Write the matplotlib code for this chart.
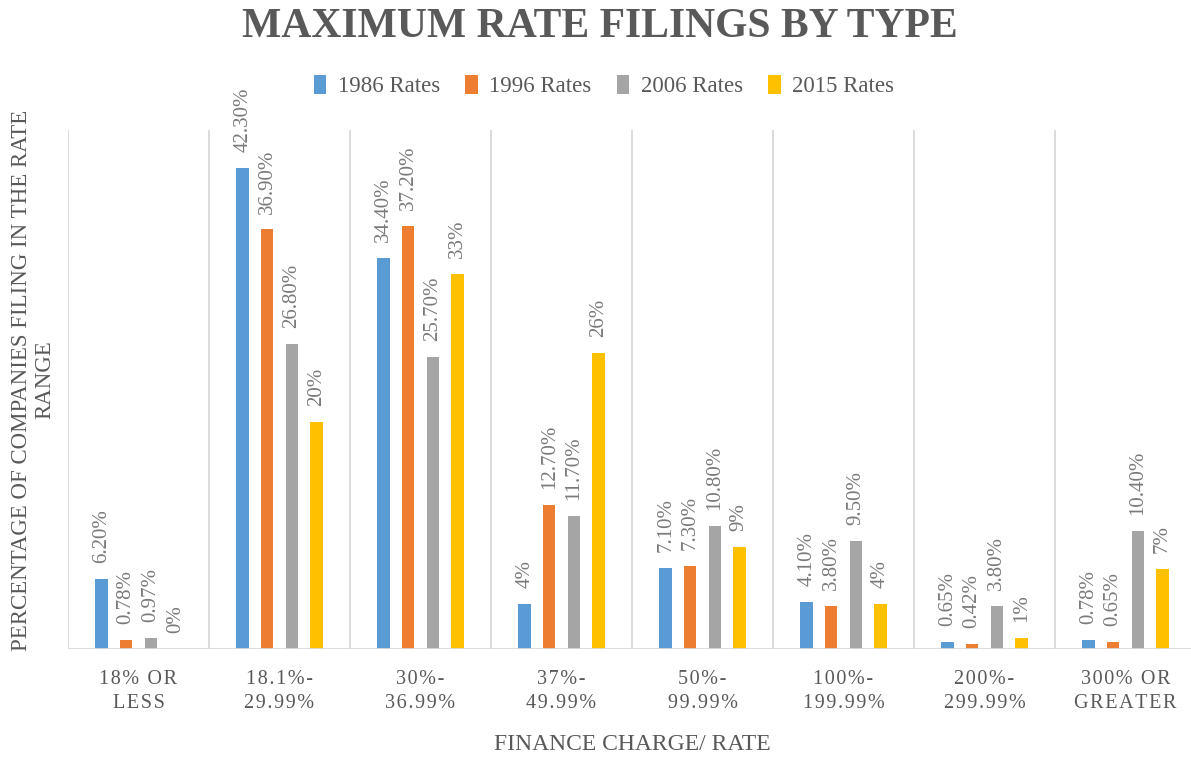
import matplotlib
matplotlib.use("Agg")
import matplotlib.pyplot as plt
import numpy as np

plt.rcParams["font.family"] = ["Liberation Serif", "DejaVu Serif"]

categories = [
    ("18% OR", "LESS"),
    ("18.1%-", "29.99%"),
    ("30%-", "36.99%"),
    ("37%-", "49.99%"),
    ("50%-", "99.99%"),
    ("100%-", "199.99%"),
    ("200%-", "299.99%"),
    ("300% OR", "GREATER"),
]
series_names = ["1986 Rates", "1996 Rates", "2006 Rates", "2015 Rates"]
rates_1986 = [6.20, 42.30, 34.40, 4.0, 7.10, 4.10, 0.65, 0.78]
rates_1996 = [0.78, 36.90, 37.20, 12.70, 7.30, 3.80, 0.42, 0.65]
rates_2006 = [0.97, 26.80, 25.70, 11.70, 10.80, 9.50, 3.80, 10.40]
rates_2015 = [0.0, 20.0, 33.0, 26.0, 9.0, 4.0, 1.0, 7.0]
colors = ["#5B9BD5", "#ED7D31", "#A5A5A5", "#FFC000"]

TEXT = "#595959"
GRID = "#D9D9D9"


def spaced(s):
    # Excel-style letter spacing on the category labels
    return "\u200a".join(s)


def fmt(v):
    return f"{v:.0f}%" if float(v).is_integer() else f"{v:.2f}%"


fig = plt.figure(figsize=(11.91, 7.57), dpi=100)
ax = fig.add_axes([68 / 1191, 1 - 649 / 757, 1128 / 1191, 519 / 757])

x = np.arange(len(categories))
step = 0.174
width = 0.088
all_series = [rates_1986, rates_1996, rates_2006, rates_2015]
handles = []
for i, (vals, col, name) in enumerate(zip(all_series, colors, series_names)):
    pos = x + (i - 1.5) * step
    bars = ax.bar(pos, vals, width=width, color=col, label=name, zorder=3)
    handles.append(bars)
    for p, v in zip(pos, vals):
        ax.annotate(fmt(v), (p, v), xytext=(0, 11.5), textcoords="offset points",
                    rotation=90, ha="center", va="bottom", fontsize=15, color="#7A7A7A")

ax.set_xlim(-0.5, len(categories) - 0.5)
ax.set_ylim(0, 45.65)
for b in np.arange(-0.5, len(categories), 1.0):
    ax.axvline(b, color=GRID, lw=1.3, zorder=1)
ax.axhline(0, color=GRID, lw=2, zorder=4)
for s in ax.spines.values():
    s.set_visible(False)
ax.set_yticks([])
ax.set_xticks(x)
ax.set_xticklabels([spaced(a) + "\n" + spaced(b) for a, b in categories],
                   fontsize=14.5, color=TEXT, linespacing=1.4)
ax.tick_params(axis="x", length=0, pad=15)

fig.text(632 / 1191, 1 - 745 / 757, "FINANCE CHARGE/ RATE", ha="center", va="center",
         fontsize=17, color=TEXT)
fig.text(33 / 1191, 1 - 380 / 757, "PERCENTAGE OF COMPANIES FILING IN THE RATE\nRANGE",
         ha="center", va="center", rotation=90, fontsize=16.5, color=TEXT, linespacing=1.15)
fig.text(600 / 1191, 1 - 27 / 757, "MAXIMUM RATE FILINGS BY TYPE", ha="center", va="center",
         fontsize=30, fontweight="bold", color=TEXT)

fig.legend(handles=handles, labels=series_names, loc="center", ncol=4,
           bbox_to_anchor=(604 / 1191, 1 - 86 / 757), frameon=False, fontsize=16.5,
           handlelength=0.55, handleheight=0.9, handletextpad=0.5, columnspacing=1.1,
           labelcolor=TEXT)

fig.savefig("out.png", dpi=100, facecolor="white")
